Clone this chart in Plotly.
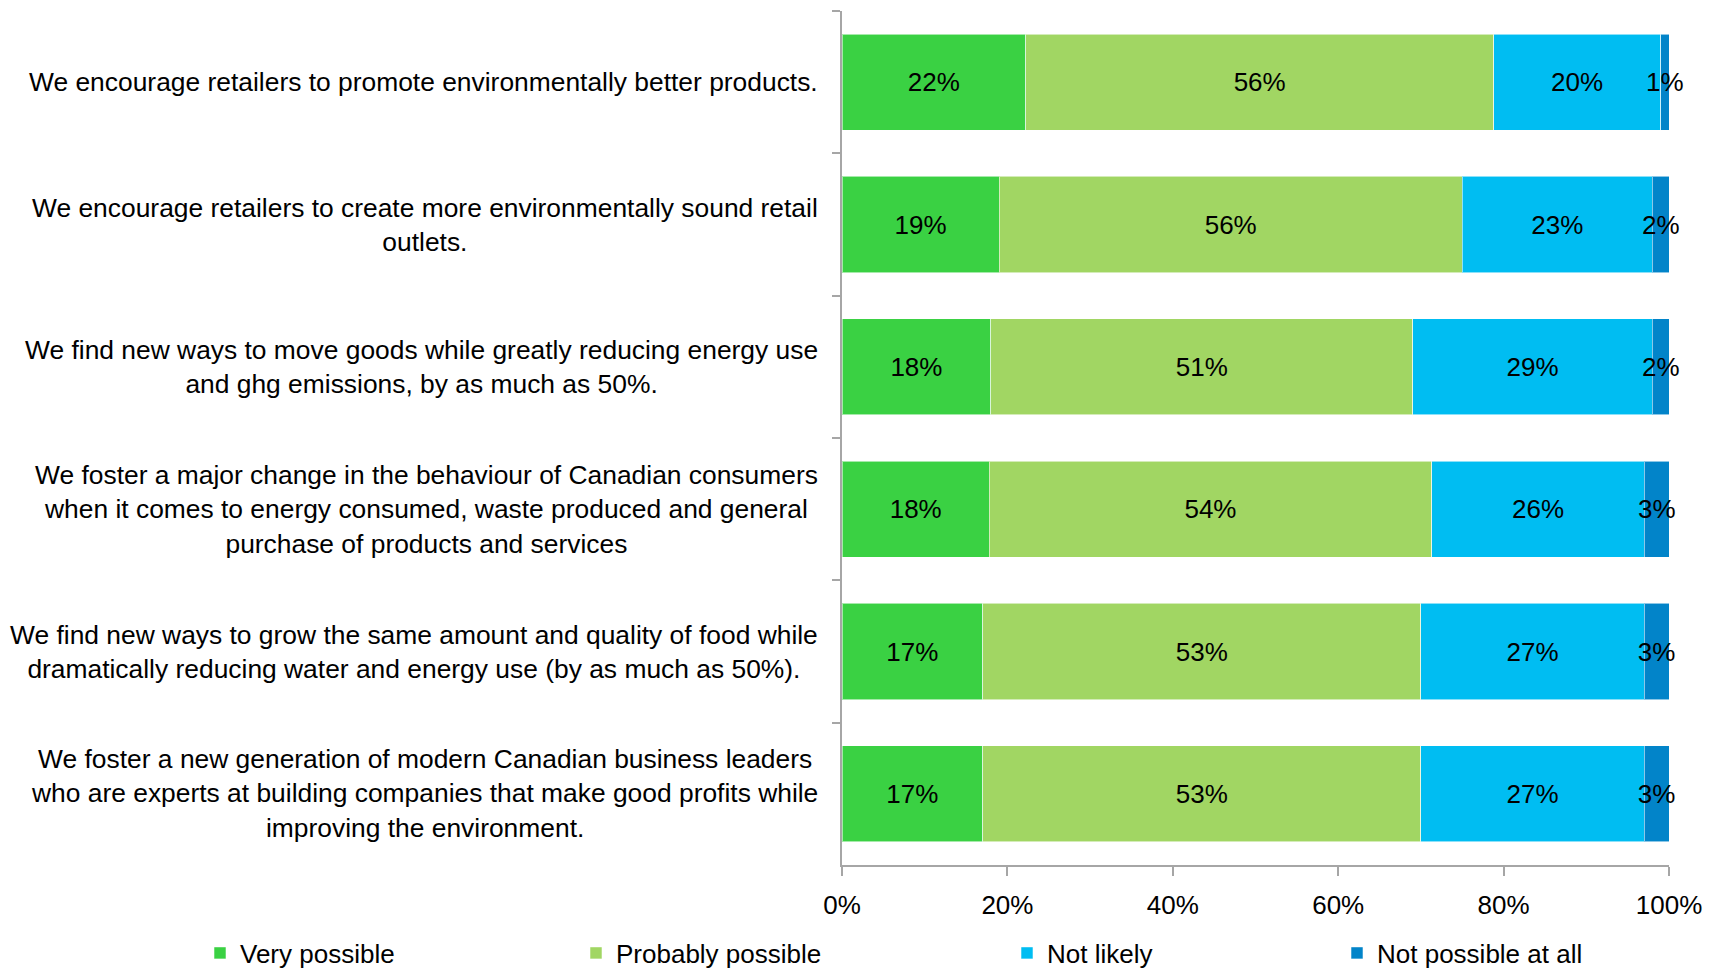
import plotly.graph_objects as go

# Survey statements (top to bottom)
statements = [
    "We encourage retailers to promote environmentally better products.",
    "We encourage retailers to create more environmentally sound retail<br>outlets.",
    "We find new ways to move goods while greatly reducing energy use<br>and ghg emissions, by as much as 50%.",
    "We foster a major change in the behaviour of Canadian consumers<br>when it comes to energy consumed, waste produced and general<br>purchase of products and services",
    "We find new ways to grow the same amount and quality of food while<br>dramatically reducing water and energy use (by as much as 50%).",
    "We foster a new generation of modern Canadian business leaders<br>who are experts at building companies that make good profits while<br>improving the environment.",
]

# Response shares (%) for each statement
very_possible = [22, 19, 18, 18, 17, 17]
probably_possible = [56, 56, 51, 54, 53, 53]
not_likely = [20, 23, 29, 26, 27, 27]
not_possible = [1, 2, 2, 3, 3, 3]

series_names = ["Very possible", "Probably possible", "Not likely", "Not possible at all"]
series_values = [very_possible, probably_possible, not_likely, not_possible]
series_colors = ["#3AD143", "#A1D663", "#00BDF2", "#0284C9"]

x_ticks = [0, 20, 40, 60, 80, 100]

FONT = "Liberation Sans, Arial, sans-serif"
FS = 26

# Plot area in pixels
W, H = 1710, 971
L, R, T, B = 842, 41, 11, 106
plot_w = W - L - R
plot_h = H - T - B

# Legend symbol centres (px) for each series
legend_px = [224, 600, 1031, 1361]
legend_y_px = 953

fig = go.Figure()
for i, (name, vals, col) in enumerate(zip(series_names, series_values, series_colors)):
    fig.add_trace(go.Bar(
        y=statements,
        x=vals,
        orientation="h",
        name=name,
        marker=dict(color=col, line=dict(color="rgba(255,255,255,0.55)", width=1)),
        text=[f"{v}%" for v in vals],
        textposition="inside",
        insidetextanchor="middle",
        textangle=0,
        constraintext="none",
        textfont=dict(family=FONT, size=FS, color="#000000"),
        cliponaxis=False,
        legend="legend" if i == 0 else f"legend{i + 1}",
        hoverinfo="skip",
    ))

# Statement labels, centred text blocks right-aligned against the axis
for s in statements:
    fig.add_annotation(
        x=0, xref="paper", xshift=-22,
        y=s, yref="y",
        text=s, showarrow=False,
        xanchor="right", yanchor="middle", align="center",
        font=dict(family=FONT, size=FS + 0.4, color="#000000"),
    )

legend_common = dict(
    orientation="h",
    xref="paper", yref="paper",
    xanchor="left", yanchor="middle",
    font=dict(family=FONT, size=FS, color="#000000"),
    bgcolor="rgba(0,0,0,0)",
    itemwidth=30,
    tracegroupgap=0,
)
legends = {}
for i, px in enumerate(legend_px):
    key = "legend" if i == 0 else f"legend{i + 1}"
    legends[key] = dict(
        legend_common,
        x=(px - 24 - L) / plot_w,
        y=(H - B - legend_y_px) / plot_h,
    )

fig.update_layout(
    width=W, height=H,
    margin=dict(l=L, r=R, t=T, b=B, autoexpand=False),
    barmode="stack",
    barnorm="percent",
    bargap=0.325,
    plot_bgcolor="white",
    paper_bgcolor="white",
    font=dict(family=FONT, size=FS, color="#000000"),
    showlegend=True,
    **legends,
)

fig.update_xaxes(
    range=[0, 100],
    tickvals=x_ticks,
    ticktext=[f"{t}%" for t in x_ticks],
    showgrid=False, zeroline=False,
    showline=True, linecolor="#A6A6A6", linewidth=2,
    ticks="outside", ticklen=9, tickwidth=2, tickcolor="#A6A6A6",
    ticklabelstandoff=7,
    tickfont=dict(family=FONT, size=FS, color="#000000"),
)
fig.update_yaxes(
    categoryorder="array", categoryarray=statements,
    autorange="reversed",
    showticklabels=False,
    showgrid=False, zeroline=False,
    showline=True, linecolor="#A6A6A6", linewidth=2,
    ticks="outside", tickson="boundaries", ticklen=8, tickwidth=2, tickcolor="#A6A6A6",
)

fig.write_html("out.html")
